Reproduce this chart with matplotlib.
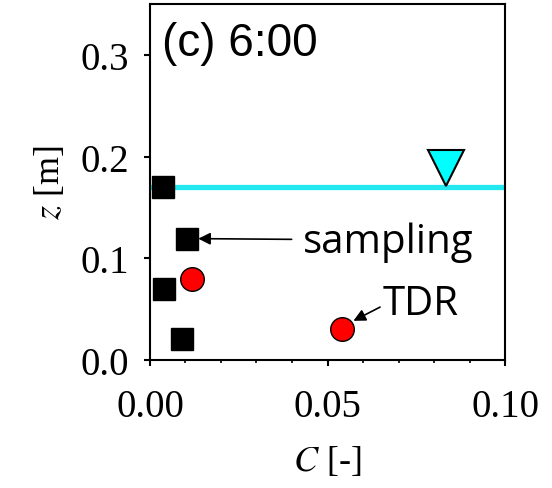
import matplotlib
matplotlib.use("Agg")
import matplotlib.pyplot as plt
from matplotlib.ticker import MultipleLocator, FormatStrFormatter

plt.rcParams['mathtext.fontset'] = 'stix'

# sampling (black squares)
samp_c = [0.0037, 0.0103, 0.0040, 0.0091]
samp_z = [0.170, 0.119, 0.070, 0.021]
# TDR (red circles)
tdr_c = [0.0119, 0.054]
tdr_z = [0.080, 0.030]
# water table
wt_z = 0.17
wt_mark_c = 0.0833

fig = plt.figure(figsize=(5.52, 4.89), dpi=100)
ax = fig.add_axes([0.2717, 0.2618, 0.6432, 0.728])

ax.axhline(wt_z, color='#22E8F0', lw=3.8, zorder=2)
ax.plot([wt_mark_c], [wt_z + 0.019], marker='v', ms=26, color='#00FFFF',
        mec='black', mew=1.5, ls='none', zorder=4, clip_on=False)
ax.plot(samp_c, samp_z, 's', ms=16.5, color='black', zorder=3, clip_on=False)
ax.plot(tdr_c, tdr_z, 'o', ms=17, mfc='#FF0000', mec='black', mew=1.0,
        zorder=3, clip_on=False)

ax.text(0.0034, 0.312, '(c) 6:00', fontsize=33, family='Liberation Sans',
        va='center', ha='left')

# annotations
ax.text(0.0431, 0.106, 'sampling', fontsize=29, family='Open Sans',
        va='baseline', ha='left')
ax.annotate('', xy=(0.0136, 0.1193), xytext=(0.0399, 0.1186),
            arrowprops=dict(arrowstyle='-|>', color='black', lw=1.2,
                            mutation_scale=18, shrinkA=0, shrinkB=0))
ax.text(0.0656, 0.045, 'TDR', fontsize=29, family='Open Sans',
        va='baseline', ha='left')
ax.annotate('', xy=(0.0573, 0.0385), xytext=(0.0648, 0.052),
            arrowprops=dict(arrowstyle='-|>', color='black', lw=1.2,
                            mutation_scale=18, shrinkA=0, shrinkB=0))

ax.set_xlim(0, 0.10)
ax.set_ylim(0, 0.35)
ax.xaxis.set_major_locator(MultipleLocator(0.05))
ax.xaxis.set_minor_locator(MultipleLocator(0.01))
ax.yaxis.set_major_locator(MultipleLocator(0.1))
ax.xaxis.set_major_formatter(FormatStrFormatter('%.2f'))
ax.yaxis.set_major_formatter(FormatStrFormatter('%.1f'))

ax.tick_params(axis='both', which='major', direction='out', length=4,
               width=1.5, labelsize=28, pad=11)
ax.tick_params(axis='x', which='major', pad=16)
ax.tick_params(axis='x', which='minor', direction='out', length=2.5, width=1.2)
for lab in ax.get_xticklabels() + ax.get_yticklabels():
    lab.set_family('Liberation Serif')
for s in ax.spines.values():
    s.set_linewidth(1.5)

ax.set_xlabel(r'$C$ [-]', fontsize=26, family='Liberation Serif', labelpad=14)
ax.set_ylabel(r'$z$ [m]', fontsize=26, family='Liberation Serif', labelpad=10)

fig.savefig('out.png', dpi=100)
